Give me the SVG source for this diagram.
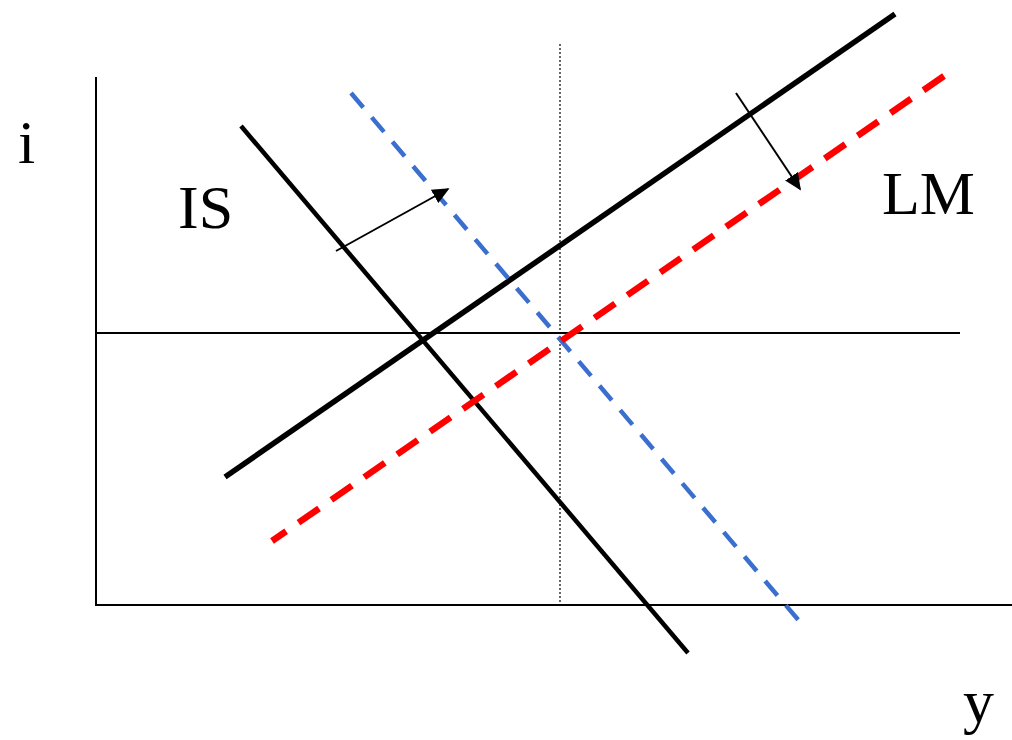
<svg xmlns="http://www.w3.org/2000/svg" width="1012" height="740" viewBox="0 0 1012 740">
<style>
.axis{stroke:#000;stroke-width:2;fill:none}
.solid{stroke:#000;fill:none}
.lab{font-family:"Liberation Serif",serif;font-size:62px;fill:#000}
.arr{stroke:#000;stroke-width:2;fill:none}
</style>
<defs>
<marker id="ah" viewBox="0 0 10 10" refX="9" refY="5" markerWidth="17" markerHeight="17" orient="auto" markerUnits="userSpaceOnUse">
<path d="M0,0.5 L10,5 L0,9.5 z" fill="#000"/>
</marker>
</defs>
<rect width="1012" height="740" fill="#fff"/>
<g id="axes">
<line class="axis" x1="96" y1="77" x2="96" y2="606"/>
<line class="axis" x1="95" y1="605" x2="1012" y2="605"/>
<line class="axis" x1="96" y1="333" x2="960" y2="333"/>
<line x1="560" y1="44" x2="560" y2="605" stroke="#000" stroke-width="1.2" stroke-dasharray="2 2"/>
</g>
<g id="curves">
<line id="IS" class="solid" stroke-width="4.5" x1="241" y1="126" x2="688" y2="653"/>
<line id="LM" class="solid" stroke-width="5.5" x1="225" y1="477" x2="895" y2="14"/>
<line id="IS2" x1="351" y1="93" x2="800" y2="622" stroke="#3a6fd0" stroke-width="4.5" stroke-dasharray="19 13"/>
<line id="LM2" x1="944" y1="76" x2="272" y2="541" stroke="#ff0000" stroke-width="6.5" stroke-dasharray="25 15"/>
</g>
<g id="connectors">
<line class="arr" x1="336" y1="251" x2="448" y2="189" marker-end="url(#ah)"/>
<line class="arr" x1="736" y1="93" x2="800" y2="189" marker-end="url(#ah)"/>
</g>
<g id="labels">
<text class="lab" x="18" y="163">i</text>
<text class="lab" x="178" y="228">IS</text>
<text class="lab" x="882" y="214">LM</text>
<text class="lab" x="963" y="722">y</text>
</g>
</svg>
